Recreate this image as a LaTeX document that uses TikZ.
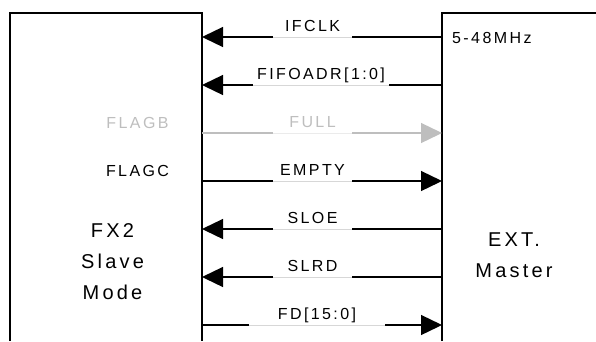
\documentclass[tikz,border=0pt]{standalone}
\usepackage{fontspec}
\setmainfont{Liberation Sans}
\newfontfamily\sigfont[LetterSpace=15]{Liberation Sans}
\newfontfamily\boxfont[LetterSpace=16]{Liberation Sans}
\usetikzlibrary{arrows.meta,positioning}
\definecolor{faded}{RGB}{190,190,190}
\definecolor{ulgray}{RGB}{215,215,215}

\begin{document}
\begin{tikzpicture}[x=1pt, y=-1pt, >={Triangle[length=21pt,width=20pt]},
    every node/.style={font=\sigfont\fontsize{16}{18}\selectfont, inner sep=0pt},
    box/.style={line width=2pt},
    sig/.style={line width=1.3pt},
    under/.style={line width=0.6pt, ulgray},
    siglbl/.style={anchor=south, text depth=0pt, inner ysep=5pt, minimum width=#1},
    boxlbl/.style={font=\boxfont\fontsize{20}{31}\selectfont, align=center}]
    \useasboundingbox (0,0) rectangle (596,341);
    % the two boxes, open at the bottom
    \draw[box] (10,341) -- (10,13) -- (202,13) -- (202,341);
    \draw[box] (442,341) -- (442,13) -- (596,13);
    % pins on the box edges
    \foreach \y [count=\i] in {37,85,133,181,229,277,325} {
      \coordinate (L\i) at (202,\y);
      \coordinate (R\i) at (442,\y);
    }
    % box texts
    \node[boxlbl] (fx2) at (112.5,262) {FX2\\Slave\\Mode};
    \node[boxlbl] (master) at (514,255) {EXT.\\Master};
    \node[anchor=base west] (clk) at (452,43) {5-48MHz};
    \node[anchor=base, faded] (flagb) at (137.5,128) {FLAGB};
    \node[anchor=base] (flagc) at (137.5,176.5) {FLAGC};
    % signal labels (width = gap in the line)
    \node[siglbl=79pt] (ifclk) at (312.5,37) {IFCLK};
    \node[siglbl=136pt] (fifoadr) at (321,85) {FIFOADR[1:0]};
    \node[siglbl=79pt, faded] (full) at (312.5,133) {FULL};
    \node[siglbl=79pt] (empty) at (312.5,181) {EMPTY};
    \node[siglbl=79pt] (sloe) at (312.5,229) {SLOE};
    \node[siglbl=79pt] (slrd) at (312.5,277) {SLRD};
    \node[siglbl=136pt] (fd) at (317,325) {FD[15:0]};
    % master -> FX2
    \draw[sig] (R1) -- (ifclk.south east);
    \draw[under] (ifclk.south east) -- (ifclk.south west);
    \draw[sig, ->] (ifclk.south west) -- (L1);
    \draw[sig] (R2) -- (fifoadr.south east);
    \draw[under] (fifoadr.south east) -- (fifoadr.south west);
    \draw[sig, ->] (fifoadr.south west) -- (L2);
    \draw[sig] (R5) -- (sloe.south east);
    \draw[under] (sloe.south east) -- (sloe.south west);
    \draw[sig, ->] (sloe.south west) -- (L5);
    \draw[sig] (R6) -- (slrd.south east);
    \draw[under] (slrd.south east) -- (slrd.south west);
    \draw[sig, ->] (slrd.south west) -- (L6);
    % FX2 -> master
    \draw[sig, faded] (L3) -- (full.south west);
    \draw[under, white!92!black] (full.south west) -- (full.south east);
    \draw[sig, faded, ->] (full.south east) -- (R3);
    \draw[sig] (L4) -- (empty.south west);
    \draw[under] (empty.south west) -- (empty.south east);
    \draw[sig, ->] (empty.south east) -- (R4);
    \draw[sig] (L7) -- (fd.south west);
    \draw[under] (fd.south west) -- (fd.south east);
    \draw[sig, ->] (fd.south east) -- (R7);
\end{tikzpicture}
\end{document}
